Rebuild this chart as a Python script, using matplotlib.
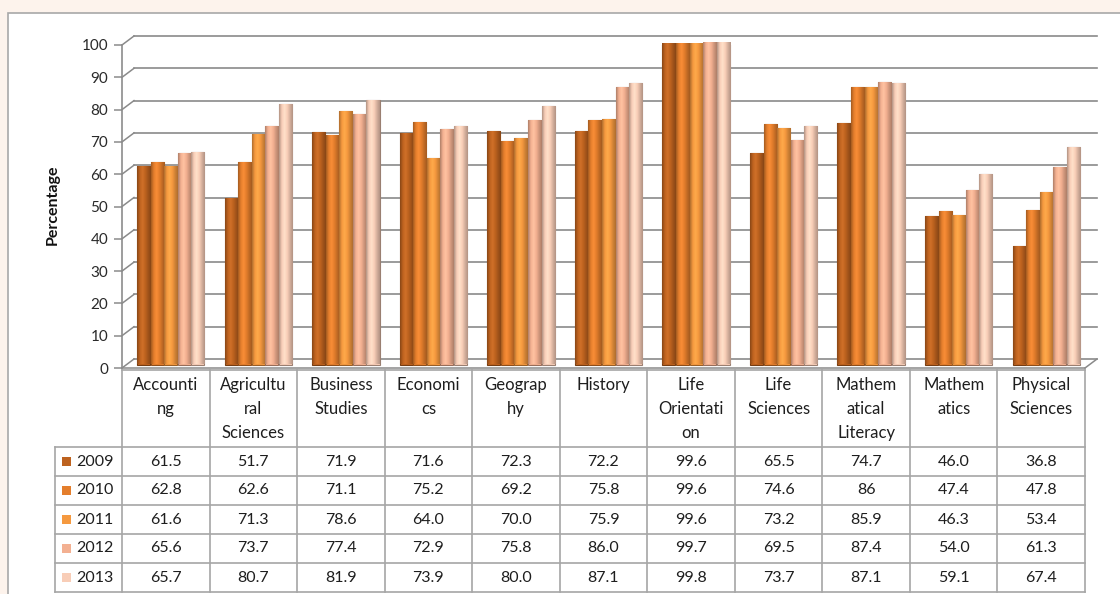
import matplotlib
matplotlib.use("Agg")
import matplotlib.pyplot as plt
import matplotlib.transforms as mtransforms
from matplotlib.colors import LinearSegmentedColormap, to_rgb
from matplotlib.patches import Rectangle
import numpy as np

# ---------------- data ----------------
categories = ["Accounti\nng", "Agricultu\nral\nSciences", "Business\nStudies", "Economi\ncs",
              "Geograp\nhy", "History", "Life\nOrientati\non", "Life\nSciences",
              "Mathem\natical\nLiteracy", "Mathem\natics", "Physical\nSciences"]
years = ["2009", "2010", "2011", "2012", "2013"]
v2009 = ["61.5", "51.7", "71.9", "71.6", "72.3", "72.2", "99.6", "65.5", "74.7", "46.0", "36.8"]
v2010 = ["62.8", "62.6", "71.1", "75.2", "69.2", "75.8", "99.6", "74.6", "86", "47.4", "47.8"]
v2011 = ["61.6", "71.3", "78.6", "64.0", "70.0", "75.9", "99.6", "73.2", "85.9", "46.3", "53.4"]
v2012 = ["65.6", "73.7", "77.4", "72.9", "75.8", "86.0", "99.7", "69.5", "87.4", "54.0", "61.3"]
v2013 = ["65.7", "80.7", "81.9", "73.9", "80.0", "87.1", "99.8", "73.7", "87.1", "59.1", "67.4"]
series = [v2009, v2010, v2011, v2012, v2013]
yticks = list(range(0, 101, 10))
ylabel = "Percentage"

colors = ["#bd621f", "#e47e2c", "#f5993f", "#f3b091", "#f8cdb7"]

# ---------------- figure ----------------
W, H = 1120, 594
fig = plt.figure(figsize=(W / 100, H / 100), dpi=100, facecolor="#fdf3ec")
plt.rcParams["font.family"] = ["Lato", "DejaVu Sans"]
px = mtransforms.Affine2D().scale(1 / W, -1 / H).translate(0, 1) + fig.transFigure

# chart area
bg = Rectangle((8, 13), W - 8 + 5, H - 13 + 5, transform=px,
               facecolor="white", edgecolor="#a8a8a8", lw=1.2, zorder=-5)
fig.add_artist(bg)

# plot axes
x0, x1 = 122, 1085
y_top, y_bot = 45, 368
ax = fig.add_axes([x0 / W, (H - y_bot) / H, (x1 - x0) / W, (y_bot - y_top) / H])
ax.set_facecolor("none")
ax.set_zorder(2)
n = len(categories)
for s in ["top", "right", "bottom"]:
    ax.spines[s].set_visible(False)
ax.spines["left"].set_color("#8c8c8c")
ax.spines["left"].set_linewidth(1.2)
ax.set_xticks([])
ax.set_yticks(yticks)
ax.set_yticklabels([str(t) for t in yticks], fontsize=11, color="#2a2a2a")
ax.tick_params(axis="y", length=6, width=1.1, color="#8c8c8c", pad=4)

# 3-D back wall offsets
dxu = 12 * n / (x1 - x0)
dyu = 9 * 100 / (y_bot - y_top)
gcol = "#8a8a8a"
for t in yticks:
    ax.plot([-0.5 + dxu, n - 0.5 + dxu], [t + dyu, t + dyu], color=gcol, lw=1.2,
            clip_on=False, zorder=1)
    ax.plot([-0.5, -0.5 + dxu], [t, t + dyu], color=gcol, lw=1.1, clip_on=False, zorder=1)
ax.plot([-0.5, n - 0.5], [0, 0], color=gcol, lw=1.1, clip_on=False, zorder=1)
ax.plot([n - 0.5, n - 0.5 + dxu], [0, dyu], color=gcol, lw=1.1, clip_on=False, zorder=1)

# bars (placed at mid depth of the 3-D floor) with cylinder-like shading
mid = mtransforms.offset_copy(ax.transData, fig=fig, x=5, y=3.5, units="dots")
bw = 0.155
xs = np.arange(n)
grad = np.linspace(0, 1, 64).reshape(1, -1)
for k, (vals, c) in enumerate(zip(series, colors)):
    y = np.array([float(v) for v in vals])
    pos = xs + (k - 2) * bw
    rgb = np.array(to_rgb(c))
    dark = rgb * 0.72
    light = np.minimum(rgb * 1.06 + 0.03, 1)
    cmap = LinearSegmentedColormap.from_list(
        "g%d" % k, [dark, rgb, light, rgb, rgb * 0.85, dark])
    bars = ax.bar(pos, y, width=bw * 0.96, color=c, edgecolor=tuple(rgb * 0.62),
                  linewidth=0.8, zorder=3)
    for b in bars:
        b.set_transform(mid)
        im = ax.imshow(grad, cmap=cmap, aspect="auto", zorder=3, transform=mid,
                       extent=[b.get_x(), b.get_x() + b.get_width(), 0, b.get_height()])
        im.set_clip_path(b)
ax.set_xlim(-0.5, n - 0.5)
ax.set_ylim(0, 100)

# y label
fig.text(53, 205, ylabel, transform=px, rotation=90, fontsize=11.5, fontweight="bold",
         ha="center", va="center", color="#111111")

# ---------------- data table ----------------
lc = "#a6a6a6"
cw = (x1 - x0) / n
row_h = 29
hdr_top, hdr_bot = 370, 447
rows_y = [hdr_bot + i * row_h for i in range(len(years) + 1)]

fig.add_artist(plt.Line2D([x0, x1], [hdr_top, hdr_top], transform=px, color=lc, lw=1.2))
for yy in rows_y:
    fig.add_artist(plt.Line2D([55, x1], [yy, yy], transform=px, color=lc, lw=1.2))
fig.add_artist(plt.Line2D([55, 55], [hdr_bot, rows_y[-1]], transform=px, color=lc, lw=1.2))
for i in range(n + 1):
    xx = x0 + i * cw
    fig.add_artist(plt.Line2D([xx, xx], [hdr_top, rows_y[-1]], transform=px, color=lc, lw=1.2))

for i, cat in enumerate(categories):
    fig.text(x0 + (i + 0.5) * cw, 377, cat, transform=px, ha="center", va="top",
             fontsize=12, color="#1e1e1e", linespacing=1.62)

for r, (yr, vals, c) in enumerate(zip(years, series, colors)):
    yc = rows_y[r] + row_h / 2
    fig.add_artist(Rectangle((62, yc - 4.5), 9, 9, transform=px, facecolor=c,
                             edgecolor="none"))
    fig.text(76, yc, yr, transform=px, ha="left", va="center", fontsize=11.5,
             color="#1e1e1e")
    for i, v in enumerate(vals):
        fig.text(x0 + (i + 0.5) * cw, yc, v, transform=px, ha="center", va="center",
                 fontsize=11.5, color="#1e1e1e")

fig.savefig("out.png", dpi=100, facecolor=fig.get_facecolor())
